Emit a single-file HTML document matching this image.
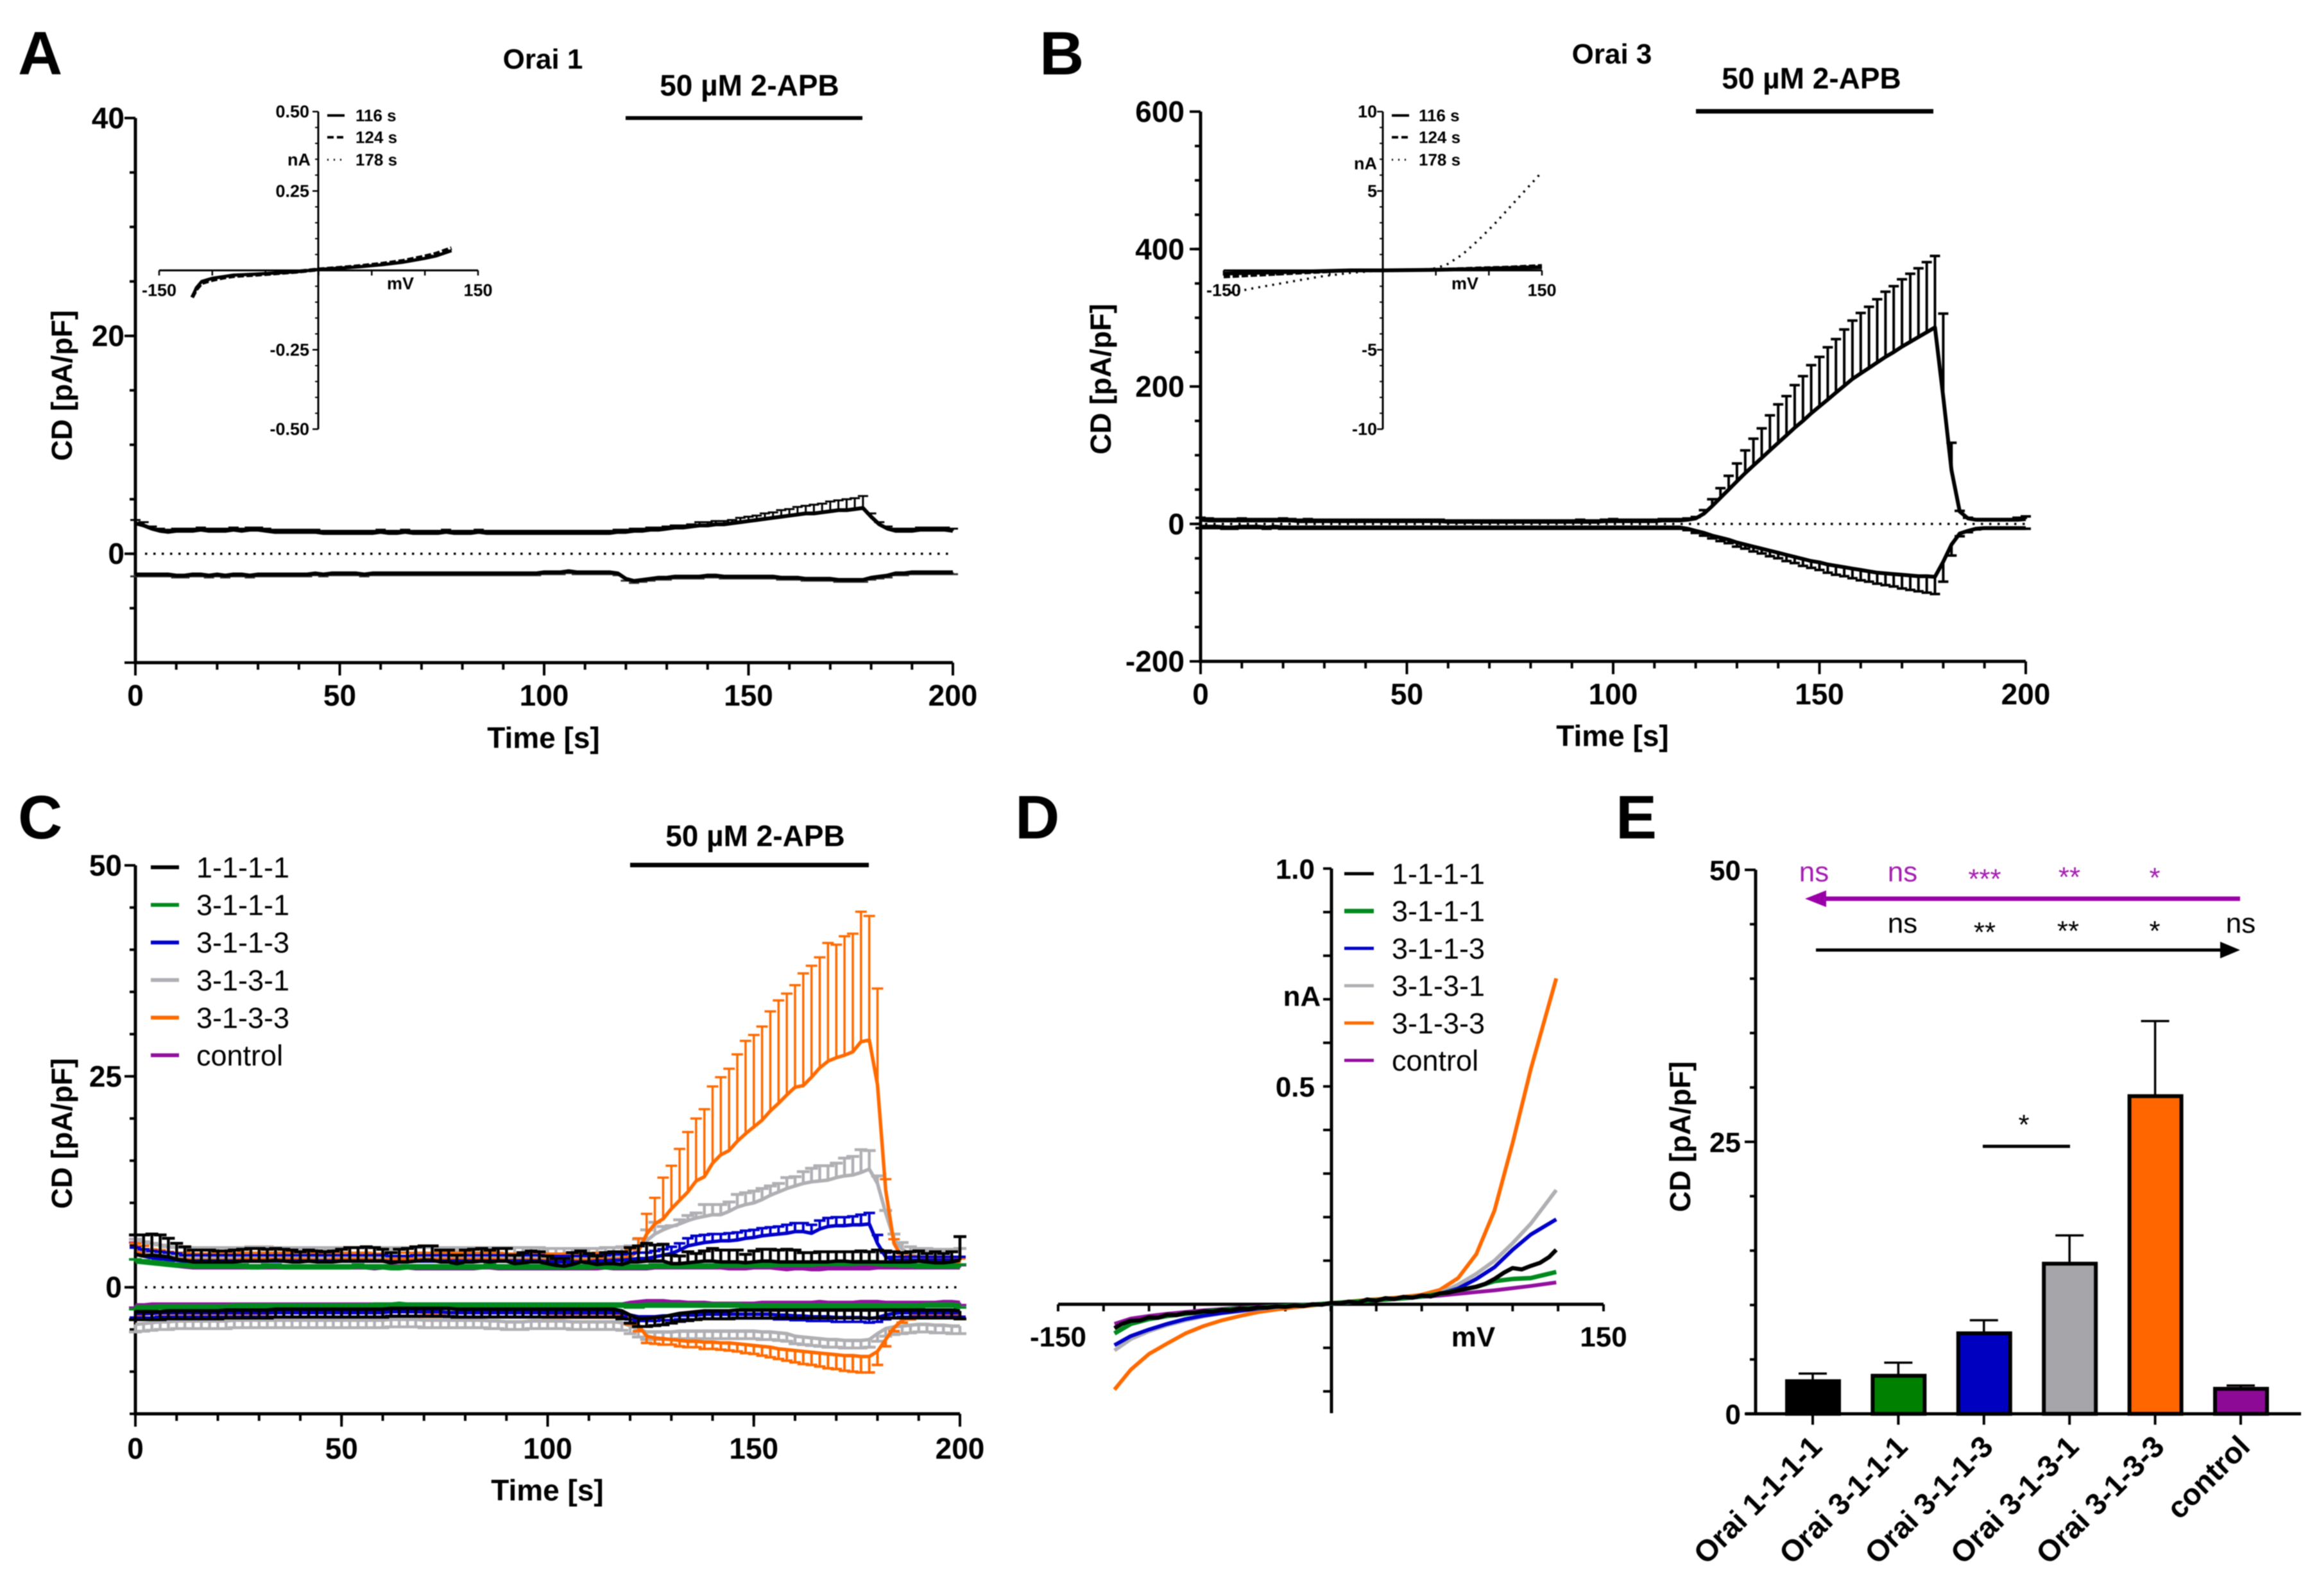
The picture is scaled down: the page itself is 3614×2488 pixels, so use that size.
<!DOCTYPE html>
<html lang="en">
<head>
<meta charset="utf-8">
<title>Orai 2-APB currents figure</title>
<style>
html,body{margin:0;padding:0;background:#fff;}
svg{display:block;filter:blur(0.9px);font-family:"Liberation Sans",Arial,sans-serif;}
text{fill:#000;}
.b{font-weight:bold;}
</style>
</head>
<body>
<svg id="fig" xmlns="http://www.w3.org/2000/svg" width="3614" height="2488" viewBox="0 0 3614 2488">
<rect x="0" y="0" width="3614" height="2488" fill="#fff"/>
<text class="b" x="28" y="116" font-size="96">A</text>
<text class="b" x="1620" y="116" font-size="96">B</text>
<text class="b" x="28" y="1307" font-size="96">C</text>
<text class="b" x="1582" y="1307" font-size="96">D</text>
<text class="b" x="2518" y="1307" font-size="96">E</text>

<text class="b" x="846" y="107" font-size="44" text-anchor="middle">Orai 1</text>
<text class="b" x="2512" y="99" font-size="44" text-anchor="middle">Orai 3</text>

<text class="b" x="1168" y="149" font-size="46" text-anchor="middle">50 µM 2-APB</text>
<text class="b" x="2823" y="138" font-size="46" text-anchor="middle">50 µM 2-APB</text>
<text class="b" x="1177" y="1319" font-size="46" text-anchor="middle">50 µM 2-APB</text>
<rect x="975" y="181" width="369" height="6" fill="#000"/>
<rect x="2643" y="170" width="370" height="7" fill="#000"/>
<rect x="982" y="1345" width="372" height="7" fill="#000"/>

<text class="b" x="847" y="1166" font-size="46" text-anchor="middle">Time [s]</text>
<text class="b" x="2513" y="1163" font-size="46" text-anchor="middle">Time [s]</text>
<text class="b" x="853" y="2339" font-size="46" text-anchor="middle">Time [s]</text>
<text class="b" font-size="45" text-anchor="middle" transform="translate(112,601) rotate(-90)">CD [pA/pF]</text>
<text class="b" font-size="45" text-anchor="middle" transform="translate(1731,591) rotate(-90)">CD [pA/pF]</text>
<text class="b" font-size="45" text-anchor="middle" transform="translate(112,1767) rotate(-90)">CD [pA/pF]</text>
<text class="b" font-size="45" text-anchor="middle" transform="translate(2634,1772) rotate(-90)">CD [pA/pF]</text>

<text class="b" x="484" y="258" font-size="27" text-anchor="end">nA</text>
<text class="b" x="624" y="451" font-size="27" text-anchor="middle">mV</text>
<text class="b" x="2146" y="264" font-size="27" text-anchor="end">nA</text>
<text class="b" x="2283" y="451" font-size="27" text-anchor="middle">mV</text>
<text class="b" x="2029" y="1568" font-size="44" text-anchor="middle">nA</text>
<text class="b" x="2296" y="2099" font-size="44" text-anchor="middle">mV</text>

<g id="panelA"></g>
<g id="panelB"></g>
<g id="panelC"></g>
<g id="panelD"></g>
<g id="panelE"></g>

<g>
<line x1="3491" y1="1401" x2="2840" y2="1401" stroke="#9b00a8" stroke-width="7"/>
<polygon points="2813,1401 2846,1388 2846,1414" fill="#9b00a8"/>
<line x1="2830" y1="1481" x2="3465" y2="1481" stroke="#000" stroke-width="5"/>
<polygon points="3491,1481 3460,1468 3460,1494" fill="#000"/>
<line x1="3090" y1="1787" x2="3226" y2="1787" stroke="#000" stroke-width="5"/>
<text x="2827" y="1374" font-size="44" text-anchor="middle" style="fill:#a31eb0">ns</text>
<text x="2965" y="1374" font-size="44" text-anchor="middle" style="fill:#a31eb0">ns</text>
<text x="3093" y="1385" font-size="44" text-anchor="middle" style="fill:#a31eb0">***</text>
<text x="3225" y="1382" font-size="44" text-anchor="middle" style="fill:#a31eb0">**</text>
<text x="3358" y="1383" font-size="44" text-anchor="middle" style="fill:#a31eb0">*</text>
<text x="2965" y="1454" font-size="44" text-anchor="middle">ns</text>
<text x="3093" y="1468" font-size="44" text-anchor="middle">**</text>
<text x="3223" y="1466" font-size="44" text-anchor="middle">**</text>
<text x="3358" y="1466" font-size="44" text-anchor="middle">*</text>
<text x="3492" y="1454" font-size="44" text-anchor="middle">ns</text>
<text x="3154" y="1768" font-size="44" text-anchor="middle">*</text>
</g>
</svg>
<script>
const timeSec = [0,2,4,6,8,10,12,14,16,18,20,22,24,26,28,30,32,34,36,38,40,42,44,46,48,50,52,54,56,58,60,62,64,66,68,70,72,74,76,78,80,82,84,86,88,90,92,94,96,98,100,102,104,106,108,110,112,114,116,118,120,122,124,126,128,130,132,134,136,138,140,142,144,146,148,150,152,154,156,158,160,162,164,166,168,170,172,174,176,178,180,182,184,186,188,190,192,194,196,198,200];

const timeTicks = [0,50,100,150,200];
const timeTickLabels = ['0','50','100','150','200'];

/* Panel A */
const aTicks = [-10,0,20,40];
const aLabelTicks = [0,20,40];
const aLabels = ['0','20','40'];
const aOutMean = [2.8,2.6,2.3,2.1,2.0,2.1,2.1,2.1,2.2,2.1, 2.1,2.1,2.2,2.1,2.2,2.2,2.1,2.0,2.0,2.0, 2.0,2.0,2.0,1.9,1.9,1.9,1.9,1.9,1.9,1.9, 2.0,1.9,1.9,2.0,1.9,1.9,1.9,1.9,2.0,1.9, 1.9,1.9,2.0,1.9,1.9,1.9,1.9,1.9,1.9,1.9, 1.9,1.9,1.9,1.9,1.9,1.9,1.9,1.9,1.9,2.0, 2.0,2.1,2.1,2.2,2.2,2.3,2.4,2.4,2.5,2.6, 2.6,2.7,2.7,2.8,2.9,3.0,3.1,3.2,3.3,3.4, 3.5,3.6,3.7,3.7,3.8,3.9,4.0,4.0,4.1,4.2, 3.4,2.7,2.3,2.1,2.1,2.1,2.2,2.2,2.2,2.2, 2.1];
const aOutErr = [.3,.3,.2,.2,.2,.2,.2,.2,.2,.2, .2,.2,.2,.2,.2,.2,.2,.2,.2,.2, .2,.2,.2,.2,.2,.2,.2,.2,.2,.2, .2,.2,.2,.2,.2,.2,.2,.2,.2,.2, .2,.2,.2,.2,.2,.2,.2,.2,.2,.2, .2,.2,.2,.2,.2,.2,.2,.2,.2,.2, .2,.2,.2,.2,.2,.2,.2,.2,.2,.3, .3,.3,.3,.3,.4,.4,.4,.5,.5,.6, .6,.7,.7,.8,.8,.9,.9,1,1,1.1, .3,.2,.2,.2,.2,.2,.2,.2,.2,.2, .2];
const aInMean = [-1.9,-1.9,-1.9,-1.9,-1.9,-2.0,-2.0,-1.9,-1.9,-2.0, -1.9,-2,-1.9,-1.9,-2,-1.9,-1.9,-1.9,-1.9,-1.9, -1.9,-1.9,-1.8,-1.9,-1.8,-1.8,-1.8,-1.8,-1.9,-1.8, -1.8,-1.8,-1.8,-1.8,-1.8,-1.8,-1.8,-1.8,-1.8,-1.8, -1.8,-1.8,-1.8,-1.8,-1.8,-1.8,-1.8,-1.8,-1.8,-1.8, -1.7,-1.7,-1.7,-1.6,-1.7,-1.7,-1.7,-1.7,-1.7,-1.8, -2.3,-2.5,-2.4,-2.3,-2.2,-2.2,-2.1,-2.1,-2.1,-2.1, -2.0,-2.0,-2.1,-2.1,-2.1,-2.1,-2.1,-2.1,-2.1,-2.2, -2.2,-2.2,-2.3,-2.3,-2.3,-2.3,-2.4,-2.4,-2.4,-2.4, -2.2,-2.1,-2.0,-1.8,-1.8,-1.7,-1.7,-1.7,-1.7,-1.7, -1.7];
const aInErr = 0.18;

/* Panel B */
const bTicks = [-200,0,200,400,600];
const bLabels = ['-200','0','200','400','600'];
const bOutMean = [6,5,5,5,5,5,5,5,5,5, 5,5,4,4,4,4,4,4,4,4, 4,4,4,4,4,4,4,4,4,4, 3,3,3,3,3,3,3,3,3,3, 3,3,3,3,3,3,3,3,3,4, 4,4,4,4,4,4,5,5,5,6, 8,15,26,38,50,62,74,85,96,107, 118,129,140,150,161,171,181,191,201,211, 219,227,235,243,250,258,265,272,279,286, 185,78,18,8,6,6,6,6,6,6, 7];
const bOutErr = [3,3,2,2,2,3,2,2,2,2, 3,2,2,3,2,2,2,2,2,2, 2,2,2,2,2,2,2,2,2,2, 2,2,2,2,2,2,2,2,2,2, 2,2,2,2,2,2,3,2,2,2, 3,2,2,2,2,2,2,2,2,2, 2,5,10,14,20,26,33,39,43,51, 56,57,62,65,70,72,76,78,82,85, 88,89,92,95,96,98,99,100,102,104, 121,40,1,1,1,1,1,1,1,3, 4];
const bInMean = [-4,-4,-4,-5,-5,-4,-4,-4,-5,-4, -5,-5,-5,-5,-5,-5,-5,-5,-5,-5, -5,-5,-5,-5,-5,-5,-5,-5,-5,-5, -5,-5,-5,-5,-5,-5,-5,-5,-5,-5, -5,-5,-5,-5,-5,-5,-5,-5,-5,-5, -5,-5,-5,-5,-5,-5,-5,-5,-5,-7, -10,-13,-17,-20,-23,-27,-30,-33,-36,-39, -42,-45,-48,-51,-54,-56,-59,-61,-63,-65, -67,-69,-71,-72,-73,-74,-75,-76,-76,-77, -55,-30,-14,-10,-7,-6,-6,-6,-6,-6, -6];
const bInErr = [2,2,2,2,2,2,2,2,2,2, 2,2,2,2,2,2,2,2,2,2, 2,2,2,2,2,2,2,2,2,2, 2,2,2,2,2,2,2,2,2,2, 2,2,2,2,2,2,2,2,2,2, 2,2,2,2,2,2,2,2,2,2, 3,4,4,5,5,6,6,7,7,8, 8,9,9,10,10,11,12,13,13,14, 15,15,16,17,18,20,21,22,24,25, 29,16,4,2,1,1,1,1,1,1, 1];

/* Panel C */
const cTicks = [0,25,50];
const cLabels = ['0','25','50'];
const cOrangeUp = [4.2,3.9,3.6,3.5,3.4,3.3,3.3,3.2,3.2,3.2, 3.2,3.2,3.2,3.3,3.3,3.3,3.3,3.3,3.3,3.3, 3.3,3.3,3.2,3.2,3.3,3.3,3.3,3.3,3.3,3.2, 3.2,3.3,3.3,3.3,3.3,3.3,3.3,3.3,3.3,3.3, 3.3,3.3,3.3,3.3,3.3,3.2,3.2,3.2,3.3,3.2, 3.2,3.2,3.2,3.2,3.2,3.2,3.3,3.3,3.3,3.4, 3.6,4.3,6.3,7.5,8.1,9.3,10.3,11.3,12.6,13.1, 14.7,15.7,16.2,17.3,18.2,19,19.8,20.9,21.8,22.8, 23.7,23.9,24.9,26,26.8,27.2,27.5,27.9,29.1,29.3, 24,11.5,5.2,3.5,3.2,3.1,3.0,3.0,2.9,2.9, 2.9];
const cOrangeUpErr = [1,1,.9,.9,.8,.8,.8,.8,.8,.8, .8,.8,.8,.8,.8,.8,.8,.8,.8,.8, .8,.8,.8,.8,.8,.8,.8,.8,.8,.8, .8,.8,.8,.8,.8,.8,.8,.8,.8,.8, .8,.8,.8,.8,.8,.8,.8,.8,.8,.8, .8,.8,.8,.8,.8,.8,.8,.8,.8,.8, .9,1.5,2.4,3.1,4.9,5.1,6.1,7.1,7.4,8, 9.1,9.2,9.7,10.3,11,10.9,11.1,11.8,12.2,12, 12.1,13.3,13.2,13.1,14,13.4,14.1,14,15.4,14.7, 11.4,1.3,.5,.5,.5,.5,.5,.5,.5,.5, .5];
const cGrayUp = [4.2,4.0,3.9,3.8,3.7,3.6,3.6,3.6,3.6,3.6, 3.6,3.6,3.6,3.6,3.7,3.7,3.7,3.6,3.6,3.6, 3.6,3.6,3.6,3.6,3.6,3.6,3.6,3.6,3.6,3.6, 3.6,3.6,3.6,3.6,3.6,3.6,3.6,3.6,3.6,3.6, 3.6,3.6,3.6,3.6,3.6,3.6,3.6,3.6,3.6,3.6, 3.5,3.5,3.5,3.5,3.5,3.5,3.5,3.6,3.6,3.7, 3.8,4.5,5.5,6.3,6.8,7.2,7.5,7.9,8.2,8.4, 8.6,8.6,9,9.5,9.8,10,10.4,10.9,11.3,11.7, 12,12.3,12.5,12.6,12.7,13,13.2,13.3,13.6,14, 12.3,8.8,5.7,4.5,3.9,3.6,3.5,3.4,3.4,3.4, 3.4];
const cGrayUpErr = [1.5,1.4,1.3,1.2,1.1,1.1,1.1,1.1,1.1,1.1, 1.1,1.1,1.1,1.1,1.1,1.1,1.1,1.1,1.1,1.1, 1.1,1.1,1.1,1.1,1.1,1.1,1.1,1.1,1.1,1.1, 1.1,1.1,1.1,1.1,1.1,1.1,1.1,1.1,1.1,1.1, 1.1,1.1,1.1,1.1,1.1,1.1,1.1,1.1,1.1,1.1, 1.1,1.1,1.1,1.1,1.1,1.1,1.1,1.1,1.1,1.1, 1.1,1.2,1.3,1.4,.4,.1,.5,.6,.6,1.4, 1.2,1.2,1.1,1.5,1.4,1.4,1.3,1.1,1,1.3, 1.1,1.4,1.6,1.8,1.7,1.7,2.1,2.2,2.7,2.2, 0.9,.3,.6,.8,.9,1,1.1,1.1,1.1,1.1, 1.2];
const cBlueUp = [3.9,3.7,3.5,3.4,3.3,3.2,3.1,3.1,3.1,3.1, 3.1,3.1,3.1,3.1,3.1,3.1,3.1,3.1,3.1,3.1, 3.1,3.1,3.1,3.1,3.1,3.1,3.1,3.1,3.1,3.1, 3.1,3.0,3.0,3.0,3.1,3.1,3.1,3.1,3.1,3.1, 3.1,3.1,3.1,3.1,3.1,3.1,3.1,3.1,3.1,3.1, 3.0,3.0,3.0,3.0,3.0,3.0,3.1,3.1,3.2,3.2, 3.3,3.4,3.4,3.6,3.8,4,4.4,4.9,5.1,5.3, 5.4,5.5,5.5,5.6,5.8,5.9,6.1,6.2,6.3,6.4, 6.6,6.6,6.4,6.9,7.2,7.3,7.3,7.4,7.4,7.5, 5.2,3.6,3.2,3.2,3.2,3.2,3.2,3.2,3.2,3.2, 3.2];
const cBlueUpErr = [.8,.8,.8,.8,.8,.8,.7,.7,.7,.7, .7,.7,.7,.7,.7,.7,.7,.7,.7,.7, .7,.7,.7,.7,.7,.7,.7,.7,.7,.7, .7,.7,.7,.7,.7,.7,.7,.7,.7,.7, .7,.7,.7,.7,.7,.7,.7,.7,.7,.7, .7,.7,.7,.7,.7,.7,.7,.7,.7,.7, .7,.7,.7,.7,.7,.8,.8,.9,1,.9, .9,.8,.9,.9,.9,.9,.9,.9,.9,1, 1,1,1,1,1,1,1,1,1.2,1.3, 1,.5,.4,.4,.4,.4,.4,.4,.4,.4, .4];
const cBlackUp = [3.9,3.7,3.8,3.7,3.6,3.3,3.2,3.0,3.0,3.0, 3.0,3.0,3.0,3.1,3.1,3.1,3.1,3.2,3.1,3.0, 3.0,3.1,3.0,3.0,3.0,3.1,3.1,3.1,3.1,3.1, 3.1,2.9,3.0,3.0,3.1,3.2,3.2,3.0,3.0,2.8, 3.0,3.0,3.1,3.0,3.1,3.1,2.8,2.9,3.0,3.0, 2.8,2.6,2.5,2.7,3.0,2.9,2.7,2.8,2.8,2.7, 3.0,3.0,3.1,3.1,3.1,2.8,2.8,2.9,3.0,3.1, 3.1,3.0,3.0,3.0,2.9,3.0,3.1,3.1,3.0,3.0, 3.0,3.0,3.0,3.0,3.0,3.1,3.1,3.0,3.0,3.0, 3.0,3.0,3.0,3.0,3.0,3.1,3.0,2.9,2.9,3.0, 3.2];
const cBlackUpErr = [2.3,2.5,2.5,2.5,2.2,1.9,1.6,1.4,1.4,1.4, 1.3,1.3,1.4,1.4,1.5,1.5,1.4,1.4,1.4,1.4, 1.2,1.3,1.3,1.2,1.3,1.4,1.6,1.6,1.7,1.6, 1.4,1.2,1.5,1.6,1.7,1.7,1.7,1.4,1.4,1.0, 1.4,1.5,1.5,1.4,1.5,1.5,1.0,1.2,1.3,1.2, .9,.8,.9,1.4,1.3,1.1,1.0,1.3,1.4,1.5, 1.7,1.9,2.1,1.9,2.0,1.0,.9,1.3,1.0,1.2, 1.5,1.4,1.4,1.4,1.0,1.3,1.4,1.4,1.4,1.5, 1.4,1.1,1.1,1.2,1.2,1.1,1.1,1.2,1.3,1.2, 1.4,1.3,1.2,1.1,1.2,1.2,1.0,1.3,1.1,1.2, 2.8];
const cGreenUp = [3.0,2.9,2.8,2.7,2.6,2.5,2.5,2.4,2.4,2.4, 2.4,2.4,2.4,2.4,2.3,2.3,2.4,2.4,2.3,2.3, 2.3,2.3,2.3,2.3,2.3,2.3,2.3,2.4,2.3,2.3, 2.3,2.2,2.2,2.3,2.3,2.3,2.3,2.3,2.3,2.3, 2.3,2.3,2.3,2.4,2.3,2.3,2.3,2.3,2.3,2.3, 2.3,2.3,2.3,2.3,2.3,2.3,2.4,2.3,2.3,2.3, 2.3,2.3,2.3,2.4,2.4,2.4,2.4,2.4,2.4,2.4, 2.4,2.5,2.5,2.5,2.5,2.5,2.5,2.5,2.6,2.6, 2.6,2.6,2.6,2.7,2.7,2.7,2.7,2.7,2.8,2.8, 2.7,2.6,2.6,2.5,2.5,2.4,2.4,2.4,2.4,2.4, 2.4];
const cGreenUpErr = 0.3;
const cPurpleUp = [5.0,4.2,3.5,3.0,2.7,2.5,2.4,2.3,2.3,2.3, 2.3,2.3,2.3,2.3,2.3,2.3,2.3,2.3,2.3,2.3, 2.3,2.3,2.3,2.3,2.3,2.3,2.3,2.3,2.3,2.2, 2.3,2.3,2.3,2.3,2.2,2.2,2.2,2.2,2.2,2.2, 2.2,2.2,2.3,2.3,2.2,2.2,2.2,2.2,2.2,2.2, 2.2,2.2,2.2,2.2,2.2,2.2,2.2,2.3,2.2,2.2, 2.2,2.2,2.2,2.3,2.3,2.3,2.3,2.3,2.3,2.3, 2.3,2.3,2.2,2.2,2.2,2.3,2.3,2.3,2.2,2.1, 2.2,2.2,2.1,2.1,2.2,2.2,2.2,2.2,2.2,2.2, 2.3,2.3,2.3,2.3,2.3,2.3,2.3,2.3,2.3,2.3, 2.3];
const cPurpleUpErr = 0.3;
const cOrangeLow = [-3.3,-3.2,-3.1,-3.1,-3.1,-3.1,-3.1,-3.1,-3.1,-3.1, -3.1,-3.1,-3.1,-3.1,-3.1,-3.1,-3.1,-3.0,-3.0,-3.0, -3.0,-3.0,-3.0,-3.0,-3.0,-3.0,-3.0,-3.0,-3.0,-3.0, -3.0,-2.9,-2.9,-2.9,-2.9,-3.0,-3.0,-3.0,-3.0,-3.0, -3.0,-3.0,-3.0,-3.0,-3.0,-3.0,-3.0,-3.0,-3.0,-3.0, -3.1,-3.1,-3.1,-3.1,-3.1,-3.1,-3.1,-3.1,-3.1,-3.2, -3.8,-4.5,-5.8,-6,-6.1,-6.2,-6.3,-6.4,-6.4,-6.5, -6.5,-6.6,-6.6,-6.7,-6.8,-6.9,-7,-7.1,-7.3,-7.4, -7.5,-7.6,-7.7,-7.8,-7.9,-8,-8.1,-8.1,-8.2,-8.2, -7.6,-6.2,-4.8,-3.9,-3.5,-3.3,-3.2,-3.2,-3.2,-3.2, -3.2];
const cOrangeLowErr = [.5,.5,.5,.5,.5,.5,.5,.5,.5,.5, .5,.5,.5,.5,.5,.5,.5,.5,.5,.5, .5,.5,.5,.5,.5,.5,.5,.5,.5,.5, .5,.5,.5,.5,.5,.5,.5,.5,.5,.5, .5,.5,.5,.5,.5,.5,.5,.5,.5,.5, .5,.5,.5,.5,.5,.5,.5,.5,.5,.5, .6,.7,.8,.7,.7,.6,.7,.7,.7,.8, .8,.8,.9,.9,1,1,1.1,1.2,1.2,1.3, 1.4,1.5,1.5,1.6,1.7,1.7,1.8,1.9,1.9,1.9, 1.6,.8,.4,.3,.3,.3,.3,.3,.3,.3, .3];
const cGrayLow = [-4.4,-4.3,-4.2,-4.1,-4.1,-4.0,-4.0,-4.0,-4.0,-4.0, -4.0,-4.0,-3.9,-3.9,-3.9,-3.9,-3.9,-3.9,-3.9,-3.9, -3.9,-3.9,-3.9,-3.9,-3.9,-3.9,-3.9,-3.9,-3.9,-3.9, -3.9,-3.8,-3.8,-3.8,-3.8,-3.9,-3.9,-3.9,-3.9,-3.9, -3.9,-3.9,-3.9,-4.0,-4.0,-4.1,-4.1,-4.1,-4.0,-4.0, -4.0,-4.0,-4.0,-4.1,-4.1,-4.1,-4.1,-4.1,-4.1,-4.2, -4.6,-5.0,-5.3,-5.3,-5.3,-5.3,-5.2,-5.2,-5.2,-5.2, -5.2,-5.2,-5.2,-5.2,-5.2,-5.2,-5.3,-5.3,-5.4,-5.5, -5.8,-5.9,-6,-6.1,-6.2,-6.2,-6.3,-6.3,-6.3,-6.2, -5.5,-4.9,-4.7,-4.6,-4.5,-4.4,-4.4,-4.5,-4.5,-4.6, -4.6];
const cGrayLowErr = 0.9;
const cBlueLow = [-3.1,-3.1,-3.1,-3.0,-3.0,-3.0,-3.0,-3.0,-3.0,-3.0, -3.0,-3.0,-3.0,-3.0,-3.0,-3.0,-3.0,-3.0,-3.0,-3.0, -3.0,-3.0,-3.0,-3.0,-3.0,-3.0,-3.0,-3.0,-3.0,-3.0, -3.0,-2.9,-2.9,-2.9,-2.9,-2.9,-2.9,-2.9,-3.0,-3.0, -3.0,-3.0,-3.0,-3.0,-3.0,-3.0,-3.0,-3.0,-3.0,-3.0, -3.0,-3.0,-3.0,-3.0,-3.0,-3.0,-3.0,-3.0,-3.0,-3.0, -3.3,-3.5,-3.5,-3.5,-3.4,-3.4,-3.3,-3.3,-3.3,-3.2, -3.2,-3.2,-3.2,-3.2,-3.2,-3.2,-3.2,-3.2,-3.3,-3.3, -3.4,-3.4,-3.5,-3.5,-3.5,-3.6,-3.6,-3.6,-3.6,-3.7, -3.6,-3.3,-3.1,-3.0,-3.0,-3.0,-3.0,-3.0,-3.0,-3.0, -3.0];
const cBlueLowErr = 0.5;
const cBlackLow = [-2.9,-2.9,-2.9,-2.9,-2.8,-2.8,-2.8,-2.8,-2.8,-2.8, -2.8,-2.7,-2.7,-2.7,-2.7,-2.7,-2.7,-2.6,-2.6,-2.6, -2.6,-2.6,-2.6,-2.6,-2.6,-2.6,-2.6,-2.6,-2.6,-2.6, -2.6,-2.5,-2.5,-2.5,-2.5,-2.5,-2.5,-2.5,-2.5,-2.6, -2.6,-2.6,-2.6,-2.6,-2.6,-2.6,-2.6,-2.6,-2.6,-2.6, -2.6,-2.6,-2.6,-2.6,-2.6,-2.6,-2.6,-2.6,-2.6,-2.8, -3.3,-3.7,-3.7,-3.6,-3.5,-3.3,-3.1,-3,-2.9,-2.8, -2.8,-2.8,-2.8,-2.7,-2.7,-2.7,-2.7,-2.7,-2.7,-2.7, -2.7,-2.7,-2.7,-2.7,-2.7,-2.7,-2.7,-2.7,-2.7,-2.7, -2.7,-2.7,-2.7,-2.7,-2.7,-2.7,-2.7,-2.7,-2.7,-2.7, -2.8];
const cBlackLowErr = 0.95;
const cGreenLow = [-2.3,-2.3,-2.3,-2.2,-2.2,-2.2,-2.2,-2.2,-2.2,-2.2, -2.2,-2.2,-2.1,-2.1,-2.1,-2.1,-2.1,-2.1,-2.1,-2.1, -2.1,-2.1,-2.1,-2.1,-2.1,-2.1,-2.1,-2.1,-2.1,-2.0, -2.0,-2.0,-1.9,-2.0,-2.0,-2.0,-2.0,-2.0,-2.0,-2.0, -2.0,-2.0,-2.0,-2.0,-2.0,-2.0,-2.0,-2.0,-2.0,-2.0, -2.0,-2.0,-2.0,-2.0,-2.0,-2.0,-2.0,-2.0,-2.0,-2.0, -2.1,-2.1,-2.0,-2.0,-2.0,-2.0,-2.0,-2.0,-2.0,-2.0, -2.0,-2.0,-2.0,-2.0,-2.1,-2.1,-2.1,-2.1,-2.1,-2.1, -2.1,-2.1,-2.1,-2.1,-2.1,-2.1,-2.1,-2.1,-2.1,-2.1, -2.1,-2.1,-2.1,-2.1,-2.1,-2.1,-2.0,-2.0,-2.0,-2.0, -2.1];
const cGreenLowErr = 0.3;
const cPurpleLow = [-2.1,-2.1,-2.0,-2.0,-2.0,-2.0,-2.0,-2.0,-2.0,-2.0, -2.0,-2.0,-2.0,-2.0,-2.0,-2.0,-2.0,-2.0,-2.0,-2.0, -2.0,-2.0,-2.0,-2.0,-2.0,-2.0,-2.0,-2.0,-2.0,-2.0, -2.0,-2.0,-2.0,-2.0,-2.0,-2.0,-2.0,-2.0,-2.0,-2.0, -2.0,-2.0,-2.0,-2.0,-2.0,-2.0,-2.0,-2.0,-2.0,-2.0, -2.0,-2.0,-2.0,-2.0,-2.0,-2.0,-2.0,-2.0,-2.0,-2.0, -1.8,-1.7,-1.6,-1.6,-1.6,-1.7,-1.7,-1.8,-1.8,-1.8, -1.9,-1.9,-1.9,-1.9,-1.9,-1.9,-1.8,-1.8,-1.8,-1.8, -1.8,-1.8,-1.8,-1.7,-1.8,-1.8,-1.8,-1.8,-1.7,-1.7, -1.7,-1.8,-1.8,-1.8,-1.8,-1.8,-1.8,-1.8,-1.7,-1.7, -1.8];
const cPurpleLowErr = 0.3;

const legendLabels = ['1-1-1-1','3-1-1-1','3-1-1-3','3-1-3-1','3-1-3-3','control'];
const legendColors = ['#000000','#008a1e','#0000c8','#b0b0b4','#ff6a00','#93109f'];

/* Panel D */
const dVoltage = [-119,-110,-100,-90,-80,-70,-60,-50,-40,-30,-20,-10,0,10,20,30,40,50,60,70,80,90,100,110,124];
const dPurple = [-.045,-.033,-.027,-.022,-.018,-.014,-.011,-.008,-.006,-.004,-.002,0,.002,.004,.007,.01,.013,.017,.02,.024,.028,.032,.037,.042,.05];
const dGreen = [-.067,-.045,-.034,-.027,-.022,-.017,-.013,-.01,-.008,-.005,-.003,-.001,.002,.005,.008,.011,.014,.018,.024,.032,.04,.053,.058,.06,.074];
const dBlue = [-.094,-.073,-.058,-.045,-.034,-.026,-.02,-.015,-.01,-.006,-.003,-.001,.001,.004,.008,.011,.014,.018,.024,.036,.058,.085,.125,.16,.195];
const dGray = [-.106,-.08,-.062,-.048,-.037,-.028,-.021,-.016,-.011,-.007,-.004,-.001,.001,.004,.008,.011,.014,.018,.026,.045,.07,.1,.14,.185,.262];
const dOrange = [-.196,-.15,-.114,-.09,-.067,-.05,-.037,-.027,-.018,-.012,-.007,-.003,.003,.006,.01,.013,.017,.022,.033,.06,.115,.215,.37,.54,.748];
const dBlackVoltage = [-119,-115,-110,-105,-100,-95,-90,-85,-80,-75,-70,-65,-60,-55,-50,-45,-40,-35,-30,-25,-20,-15,-10,-5,0,5,10,15,20,25,30,35,40,45,50,55,60,65,70,75,80,85,90,95,100,105,110,115,120,124];
const dBlack = [-.055,-.045,-.038,-.037,-.03,-.031,-.024,-.025,-.02,-.02,-.016,-.017,-.013,-.014,-.01,-.011,-.007,-.008,-.005,-.006,-.003,-.004,0,-.001,.003,.002,.006,.003,.011,.008,.014,.012,.017,.015,.02,.018,.025,.027,.032,.036,.04,.047,.058,.072,.083,.08,.088,.095,.108,.125];

/* Panel E */
const eCategories = ['Orai 1-1-1-1','Orai 3-1-1-1','Orai 3-1-1-3','Orai 3-1-3-1','Orai 3-1-3-3','control'];
const eMeans = [3.0,3.5,7.4,13.8,29.2,2.3];
const eErrTops = [3.7,4.7,8.6,16.4,36.1,2.6];
const eColors = ['#000000','#008000','#0000c0','#a6a6aa','#ff6600','#8c0a96'];
const eTicks = [0,25,50];
const eLabels = ['0','25','50'];

/* Insets */
const insetAVoltage = [-119,-115,-110,-100,-90,-80,-60,-40,-20,0,20,40,60,80,100,110,125];
const insetA116 = [-.085,-.055,-.035,-.025,-.02,-.015,-.012,-.008,-.004,.003,.007,.012,.018,.026,.038,.045,.062];
const insetA124 = [-.085,-.06,-.04,-.03,-.023,-.018,-.014,-.009,-.004,.003,.008,.014,.021,.03,.044,.052,.07];
const insetA178 = [-.08,-.055,-.038,-.028,-.022,-.017,-.013,-.008,-.004,.003,.008,.013,.02,.028,.041,.049,.066];
const insetATicks = [-0.5,-0.25,0.25,0.5];
const insetALabels = ['-0.50','-0.25','0.25','0.50'];
const insetBVoltage = [-150,-120,-90,-60,-30,0,30,45,60,75,90,105,120,135,150];
const insetB116 = [-.2,-.15,-.1,-.05,0,0,.02,.03,.05,.07,.09,.12,.15,.18,.2];
const insetB124 = [-.4,-.3,-.2,-.1,0,0,.03,.05,.07,.1,.14,.17,.2,.25,.3];
const insetB178 = [-1.5,-1.1,-.75,-.4,-.15,0,.02,.05,.35,1.0,1.9,2.9,4,5.1,6.2];
const insetBTicks = [-10,-5,5,10];
const insetBLabels = ['-10','-5','5','10'];
const insetLegend = ['116 s','124 s','178 s'];
const insetVoltTicks = [-150,150];
const insetVoltLabels = ['-150','150'];

const svg = document.getElementById('fig');
const NS = svg.namespaceURI;

function linear(d0, d1, r0, r1) {
  return function (v) { return r0 + (v - d0) * (r1 - r0) / (d1 - d0); };
}
function add(parent, tag, name, attrs) {
  const el = document.createElementNS(NS, tag);
  
  
  for (const k in attrs) el.setAttribute(k, attrs[k]);
  parent.appendChild(el);
  return el;
}
function label(parent, name, str, x, y, size, anchor, bold, transform) {
  const el = add(parent, 'text', name, { 'font-size': size, 'text-anchor': anchor });
  if (transform) el.setAttribute('transform', transform);
  else { el.setAttribute('x', x); el.setAttribute('y', y); }
  if (bold) el.setAttribute('font-weight', 'bold');
  el.textContent = str;
  return el;
}
function rng(from, to, step) {
  const out = [];
  for (let v = from; v <= to + 1e-9; v += step) out.push(v);
  return out;
}
function hTicks(g, name, values, ys, axisX, len, sw) {
  let d = '';
  values.forEach(function (v) { d += 'M' + axisX + ' ' + ys(v) + 'H' + (axisX - len); });
  add(g, 'path', name, { d: d, stroke: '#000', 'stroke-width': sw, fill: 'none' });
}
function vTicks(g, name, values, xs, axisY, len, sw) {
  let d = '';
  values.forEach(function (v) { d += 'M' + xs(v) + ' ' + axisY + 'V' + (axisY + len); });
  add(g, 'path', name, { d: d, stroke: '#000', 'stroke-width': sw, fill: 'none' });
}
function line(g, name, xVals, yVals, xs, ys, color, sw, dash) {
  const pts = xVals.map(function (x, i) { return xs(x).toFixed(1) + ',' + ys(yVals[i]).toFixed(1); }).join(' ');
  const el = add(g, 'polyline', name, { points: pts, fill: 'none', stroke: color, 'stroke-width': sw, 'stroke-linejoin': 'round' });
  if (dash) el.setAttribute('stroke-dasharray', dash);
  return el;
}
function errorBars(g, name, xVals, mean, err, dir, xs, ys, color, sw, cap) {
  let d = '';
  xVals.forEach(function (x, i) {
    const e = Array.isArray(err) ? err[i] : err;
    const px = xs(x).toFixed(1);
    const y0 = ys(mean[i]).toFixed(1);
    const y1 = ys(mean[i] + dir * e).toFixed(1);
    d += 'M' + px + ' ' + y0 + 'V' + y1 + 'M' + (xs(x) - cap).toFixed(1) + ' ' + y1 + 'H' + (xs(x) + cap).toFixed(1);
  });
  add(g, 'path', name, { d: d, fill: 'none', stroke: color, 'stroke-width': sw });
}
function timeAxes(g, prefix, xs, ys, axisX, axisY, topY, yMinor, yTicks, yLabels, labelRight, xBaseline) {
  add(g, 'path', prefix + '-axes', { d: 'M' + axisX + ' ' + topY + 'V' + axisY + 'H' + xs(200), fill: 'none', stroke: '#000', 'stroke-width': 5 });
  hTicks(g, prefix + '-y-minor-ticks', yMinor, ys, axisX, 9, 4);
  hTicks(g, prefix + '-y-major-ticks', yTicks, ys, axisX, 17, 4);
  vTicks(g, prefix + '-x-minor-ticks', rng(0, 200, 10), xs, axisY, 11, 4);
  vTicks(g, prefix + '-x-major-ticks', timeTicks, xs, axisY, 20, 4);
  yTicks.forEach(function (v, i) {
    label(g, prefix + '-y-tick-label', yLabels[i], labelRight, ys(v) + 16, 46, 'end', true);
  });
  timeTicks.forEach(function (v, i) {
    label(g, prefix + '-x-tick-label', timeTickLabels[i], xs(v), xBaseline, 46, 'middle', true);
  });
}
function zeroLine(g, name, x0, x1, y) {
  add(g, 'line', name, { x1: x0, x2: x1, y1: y, y2: y, stroke: '#000', 'stroke-width': 3.5, 'stroke-dasharray': '3.5 9.5' });
}
function inset(g, prefix, xs, ys, yTop, yBot, axisX, axisY, ticks, labels, minor, legendX, legendTextX, labelRight) {
  add(g, 'line', prefix + '-y-axis', { x1: axisX, x2: axisX, y1: yTop, y2: yBot, stroke: '#000', 'stroke-width': 3 });
  add(g, 'line', prefix + '-x-axis', { x1: xs(-150), x2: xs(150), y1: axisY, y2: axisY, stroke: '#000', 'stroke-width': 3 });
  hTicks(g, prefix + '-y-minor-ticks', minor, ys, axisX, 5, 2);
  hTicks(g, prefix + '-y-major-ticks', ticks, ys, axisX, 9, 2.5);
  vTicks(g, prefix + '-x-ticks', rng(-150, 150, 50), xs, axisY, 8, 2.5);
  ticks.forEach(function (v, i) {
    label(g, prefix + '-y-tick-label', labels[i], labelRight, ys(v) + 9, 27, 'end', true);
  });
  insetVoltTicks.forEach(function (v, i) {
    label(g, prefix + '-x-tick-label', insetVoltLabels[i], xs(v), axisY + 40, 27, 'middle', true);
  });
  const dashes = [null, '10 5', '2 8'];
  const legendY = [180, 214, 249];
  insetLegend.forEach(function (t, i) {
    const ln = add(g, 'line', prefix + '-legend-line', { x1: legendX, x2: legendX + 27, y1: legendY[i], y2: legendY[i], stroke: '#000', 'stroke-width': i === 2 ? 3 : 4 });
    if (dashes[i]) ln.setAttribute('stroke-dasharray', dashes[i]);
    label(g, prefix + '-legend-label', t, legendTextX, legendY[i] + 9, 26, 'start', true);
  });
}

/* ---------- Panel A ---------- */
(function () {
  const g = document.getElementById('panelA');
  const xs = linear(0, 200, 211, 1485);
  const ys = linear(-10, 40, 1033, 184);
  const minor = rng(-10, 40, 5);
  timeAxes(g, 'panel-a', xs, ys, 211, 1033, 184, minor, aLabelTicks, aLabels, 194, 1100);
  hTicks(g, 'panel-a-y-bottom-tick', [-10], ys, 211, 17, 4);
  zeroLine(g, 'panel-a-zero-line', 226, 1485, ys(0));
  errorBars(g, 'panel-a-outward-error-bars', timeSec, aOutMean, aOutErr, 1, xs, ys, '#000', 3, 8);
  errorBars(g, 'panel-a-inward-error-bars', timeSec, aInMean, aInErr, -1, xs, ys, '#333', 3, 8);
  line(g, 'panel-a-outward-current', timeSec, aOutMean, xs, ys, '#000', 6);
  line(g, 'panel-a-inward-current', timeSec, aInMean, xs, ys, '#000', 6);
  const ix = linear(-150, 150, 248, 745);
  const iy = linear(-0.5, 0.5, 669, 174);
  inset(g, 'panel-a-inset', ix, iy, 174, 669, 496, iy(0), insetATicks, insetALabels, rng(-0.5, 0.5, 0.05), 510, 554, 482);
  line(g, 'panel-a-iv-116s', insetAVoltage, insetA116, ix, iy, '#000', 5);
  line(g, 'panel-a-iv-124s', insetAVoltage, insetA124, ix, iy, '#000', 6, '10 4');
  line(g, 'panel-a-iv-178s', insetAVoltage, insetA178, ix, iy, '#000', 3, '2 7');
})();

/* ---------- Panel B ---------- */
(function () {
  const g = document.getElementById('panelB');
  const xs = linear(0, 200, 1871, 3157);
  const ys = linear(-200, 600, 1031, 174);
  timeAxes(g, 'panel-b', xs, ys, 1871, 1031, 174, rng(-200, 600, 50), bTicks, bLabels, 1846, 1098);
  zeroLine(g, 'panel-b-zero-line', 1878, 3157, ys(0));
  errorBars(g, 'panel-b-outward-error-bars', timeSec, bOutMean, bOutErr, 1, xs, ys, '#000', 4, 8);
  errorBars(g, 'panel-b-inward-error-bars', timeSec, bInMean, bInErr, -1, xs, ys, '#000', 4, 8);
  line(g, 'panel-b-outward-current', timeSec, bOutMean, xs, ys, '#000', 6);
  line(g, 'panel-b-inward-current', timeSec, bInMean, xs, ys, '#000', 6);
  const ix = linear(-150, 150, 1907, 2403);
  const iy = linear(-10, 10, 669, 174);
  inset(g, 'panel-b-inset', ix, iy, 174, 669, 2155, iy(0), insetBTicks, insetBLabels, rng(-10, 10, 1), 2169, 2211, 2146);
  line(g, 'panel-b-iv-116s', insetBVoltage, insetB116, ix, iy, '#000', 6);
  line(g, 'panel-b-iv-124s', insetBVoltage, insetB124, ix, iy, '#000', 5, '10 4');
  line(g, 'panel-b-iv-178s', insetBVoltage, insetB178, ix, iy, '#000', 3.5, '3 8');
})();

/* ---------- Panel C ---------- */
const cDrawOrder = [
  { name: 'purple-up', mean: cPurpleUp, err: cPurpleUpErr, dir: 1, color: legendColors[5], sw: 3.5, cap: 10 },
  { name: 'purple-low', mean: cPurpleLow, err: cPurpleLowErr, dir: -1, color: legendColors[5], sw: 3.5, cap: 10 },
  { name: 'gray-up', mean: cGrayUp, err: cGrayUpErr, dir: 1, color: legendColors[3], sw: 4.5, cap: 10 },
  { name: 'gray-low', mean: cGrayLow, err: cGrayLowErr, dir: -1, color: legendColors[3], sw: 4.5, cap: 10 },
  { name: 'orange-up', mean: cOrangeUp, err: cOrangeUpErr, dir: 1, color: legendColors[4], sw: 3.5, cap: 9 },
  { name: 'orange-low', mean: cOrangeLow, err: cOrangeLowErr, dir: -1, color: legendColors[4], sw: 4, cap: 9 },
  { name: 'green-up', mean: cGreenUp, err: cGreenUpErr, dir: 1, color: legendColors[1], sw: 4, cap: 10 },
  { name: 'green-low', mean: cGreenLow, err: cGreenLowErr, dir: -1, color: legendColors[1], sw: 4, cap: 10 },
  { name: 'blue-up', mean: cBlueUp, err: cBlueUpErr, dir: 1, color: legendColors[2], sw: 4, cap: 9 },
  { name: 'blue-low', mean: cBlueLow, err: cBlueLowErr, dir: -1, color: legendColors[2], sw: 4, cap: 9 },
  { name: 'black-up', mean: cBlackUp, err: cBlackUpErr, dir: 1, color: legendColors[0], sw: 4.5, cap: 10 },
  { name: 'black-low', mean: cBlackLow, err: cBlackLowErr, dir: -1, color: legendColors[0], sw: 4.5, cap: 10 }
];
(function () {
  const g = document.getElementById('panelC');
  const xs = linear(0, 200, 211, 1496);
  const ys = linear(-15, 50, 2204, 1349);
  timeAxes(g, 'panel-c', xs, ys, 211, 2204, 1349, rng(-15, 50, 5), cTicks, cLabels, 190, 2274);
  zeroLine(g, 'panel-c-zero-line', 226, 1496, ys(0));
  cDrawOrder.forEach(function (s) {
    errorBars(g, 'panel-c-' + s.name + '-error-bars', timeSec, s.mean, s.err, s.dir, xs, ys, s.color, s.sw, s.cap);
    line(g, 'panel-c-' + s.name + '-line', timeSec, s.mean, xs, ys, s.color, 5.5);
  });
  const legendY = linear(0, 5, 1352, 1645);
  legendLabels.forEach(function (t, i) {
    add(g, 'line', 'panel-c-legend-line', { x1: 235, x2: 279, y1: legendY(i), y2: legendY(i), stroke: legendColors[i], 'stroke-width': 6 });
    label(g, 'panel-c-legend-label', t, 306, legendY(i) + 16, 45, 'start', false);
  });
})();

/* ---------- Panel D ---------- */
(function () {
  const g = document.getElementById('panelD');
  const xs = linear(-150, 150, 1649, 2499);
  const ys = linear(-0.25, 1, 2203, 1354);
  add(g, 'line', 'panel-d-y-axis', { x1: 2075, x2: 2075, y1: 1354, y2: 2203, stroke: '#000', 'stroke-width': 5 });
  add(g, 'line', 'panel-d-x-axis', { x1: 1649, x2: 2499, y1: ys(0), y2: ys(0), stroke: '#000', 'stroke-width': 5 });
  hTicks(g, 'panel-d-y-ticks', rng(-0.2, 1, 0.1), ys, 2075, 13, 4);
  vTicks(g, 'panel-d-x-ticks', rng(-150, 150, 25), xs, ys(0), 11, 4);
  label(g, 'panel-d-y-tick-label', '1.0', 2049, ys(1) + 16, 44, 'end', true);
  label(g, 'panel-d-y-tick-label', '0.5', 2049, ys(0.5) + 16, 44, 'end', true);
  label(g, 'panel-d-x-tick-label', '-150', xs(-150), 2099, 44, 'middle', true);
  label(g, 'panel-d-x-tick-label', '150', xs(150), 2099, 44, 'middle', true);
  line(g, 'panel-d-orange-iv', dVoltage, dOrange, xs, ys, legendColors[4], 6);
  line(g, 'panel-d-gray-iv', dVoltage, dGray, xs, ys, legendColors[3], 6);
  line(g, 'panel-d-blue-iv', dVoltage, dBlue, xs, ys, legendColors[2], 6);
  line(g, 'panel-d-purple-iv', dVoltage, dPurple, xs, ys, legendColors[5], 6);
  line(g, 'panel-d-green-iv', dVoltage, dGreen, xs, ys, legendColors[1], 7);
  line(g, 'panel-d-black-iv', dBlackVoltage, dBlack, xs, ys, legendColors[0], 6.5);
  const legendY = linear(0, 5, 1362, 1653);
  legendLabels.forEach(function (t, i) {
    add(g, 'line', 'panel-d-legend-line', { x1: 2095, x2: 2141, y1: legendY(i), y2: legendY(i), stroke: legendColors[i], 'stroke-width': i === 1 ? 7 : 5 });
    label(g, 'panel-d-legend-label', t, 2169, legendY(i) + 16, 45, 'start', false);
  });
})();

/* ---------- Panel E ---------- */
(function () {
  const g = document.getElementById('panelE');
  const xs = linear(0, 5, 2825, 3492);
  const ys = linear(0, 50, 2204, 1356);
  eMeans.forEach(function (v, i) {
    const cx = xs(i);
    add(g, 'path', 'panel-e-error-bar-' + i, { d: 'M' + cx + ' ' + ys(v) + 'V' + ys(eErrTops[i]) + 'M' + (cx - 22) + ' ' + ys(eErrTops[i]) + 'H' + (cx + 22), stroke: '#000', 'stroke-width': 3.5, fill: 'none' });
    add(g, 'rect', 'panel-e-bar-' + i, { x: cx - 40, y: ys(v), width: 81, height: ys(0) - ys(v), fill: eColors[i], stroke: '#000', 'stroke-width': 6 });
  });
  add(g, 'line', 'panel-e-y-axis', { x1: 2736, x2: 2736, y1: 1356, y2: 2204, stroke: '#000', 'stroke-width': 5 });
  add(g, 'line', 'panel-e-x-axis', { x1: 2720, x2: 3586, y1: 2204, y2: 2204, stroke: '#000', 'stroke-width': 5 });
  hTicks(g, 'panel-e-y-minor-ticks', rng(0, 50, 5), ys, 2736, 9, 4);
  hTicks(g, 'panel-e-y-major-ticks', eTicks, ys, 2736, 17, 4);
  eTicks.forEach(function (v, i) {
    label(g, 'panel-e-y-tick-label', eLabels[i], 2713, ys(v) + 16, 44, 'end', true);
  });
  vTicks(g, 'panel-e-x-ticks', eCategories.map(function (c, i) { return i; }), xs, 2204, 17, 4);
  eCategories.forEach(function (c, i) {
    label(g, 'panel-e-category-label', c, 0, 0, 47, 'end', true, 'translate(' + (xs(i) + 17) + ',2258) rotate(-45)');
  });
})();
</script>
</body>
</html>
